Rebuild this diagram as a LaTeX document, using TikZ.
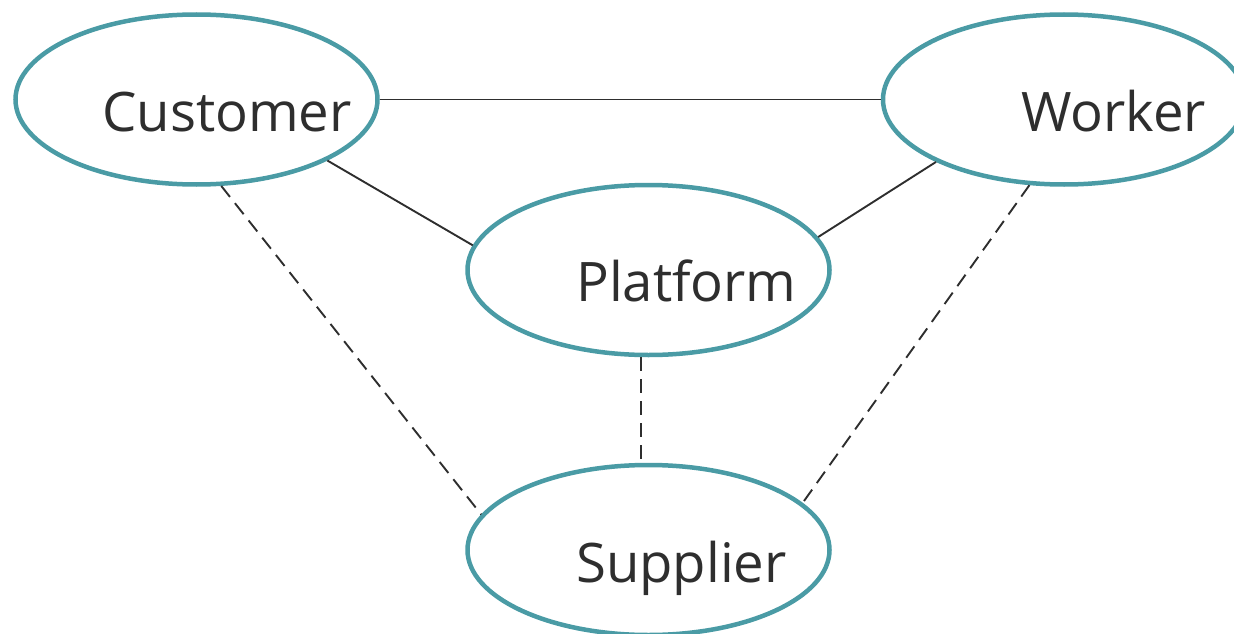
\documentclass[tikz,border=0pt]{standalone}
\usepackage{fontspec}
\setmainfont{Open Sans}
\usetikzlibrary{shapes.geometric}
\definecolor{teal1}{HTML}{4A9BA5}
\definecolor{ink}{HTML}{2E2E2E}
\tikzset{
  oval/.style={ellipse, draw=teal1, line width=4.5pt, inner sep=0pt, minimum width=362pt, minimum height=170pt},
  lbl/.style={anchor=base west, inner sep=0pt, text=ink, font=\fontsize{54.5}{60}\selectfont},
  solidlink/.style={draw=ink, line width=1.9pt},
  dashlink/.style={draw=ink, line width=1.9pt, dash pattern=on 14pt off 8pt}
}
\begin{document}
\begin{tikzpicture}[x=1pt,y=-1pt]
\useasboundingbox (0,0) rectangle (1234,634);
\begin{scope}
\clip (0,0) rectangle (1234,634);
\node[oval] (cust) at (196.5,99.5) {};
\node[oval] (work) at (1064,99.5) {};
\node[oval] (plat) at (648.5,270) {};
\node[oval] (sup) at (648.5,550) {};
\node[lbl] (custt) at (102,131) {Customer};
\node[lbl] (workt) at (1021,131) {Worker};
\node[lbl] (platt) at (576,301) {Platform};
\node[lbl] (supt) at (576,582) {Supplier};
\draw[solidlink] (cust.east) -- (work.west);
\draw[solidlink] (cust.-25) -- (plat.172);
\draw[solidlink] (work.206) -- (plat.11);
\draw[dashlink] (cust.-74) -- (sup.168);
\draw[dashlink] (plat.-95) -- (sup.95);
\draw[dashlink] (work.-112) -- (sup.17);
\end{scope}
\end{tikzpicture}
\end{document}
